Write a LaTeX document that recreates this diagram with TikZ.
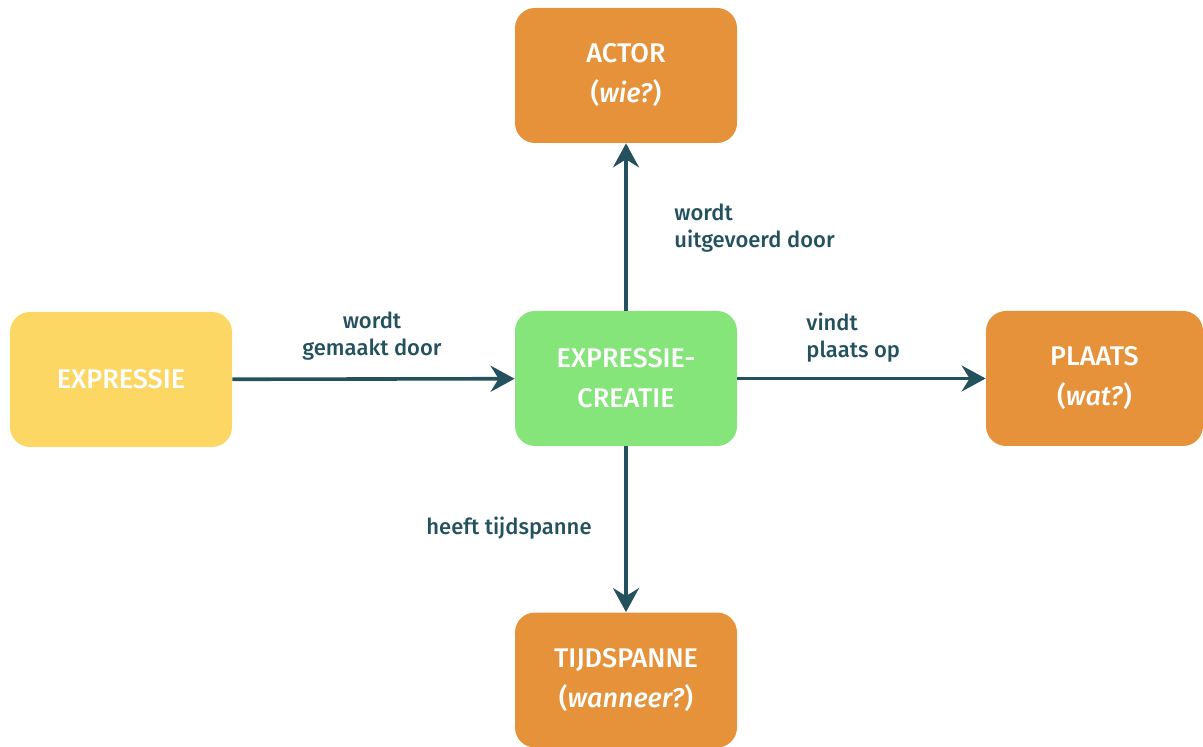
\documentclass[tikz,border=0pt]{standalone}
\usepackage{fontspec}
\setmainfont{Fira Sans}[BoldFont={Fira Sans Medium},BoldItalicFont={Fira Sans Medium Italic}]
\usepackage{tikz}
\usetikzlibrary{arrows.meta}
\definecolor{boxorange}{HTML}{E5923A}
\definecolor{boxgreen}{HTML}{86E57A}
\definecolor{boxyellow}{HTML}{FDD764}
\definecolor{linkteal}{HTML}{23525E}
\tikzset{
  box/.style={rounded corners=10pt, minimum width=111pt, minimum height=67.5pt,
    text=white, align=center, font=\bfseries\fontsize{13.5}{20}\selectfont, inner sep=0pt},
  link/.style={linkteal, line width=1.8pt, -{Stealth[length=12pt,width=13pt,inset=4pt]}},
  lab/.style={text=linkteal, font=\bfseries\fontsize{11}{13.5}\selectfont, inner sep=0pt}
}

\begin{document}
\begin{tikzpicture}[x=0.5pt,y=-0.5pt]
\useasboundingbox (0,0) rectangle (1203,747);
% boxes
\node[box, fill=boxorange] (actor) at (626,75.5) {ACTOR\\(\textit{wie?})};
\node[box, fill=boxyellow] (expr) at (121,379.5) {EXPRESSIE};
\node[box, fill=boxgreen] (creatie) at (626,378.5) {EXPRESSIE-\\CREATIE};
\node[box, fill=boxorange, minimum width=108.5pt] (plaats) at (1094.5,378.5) {PLAATS\\(\textit{wat?})};
\node[box, fill=boxorange] (tijd) at (626,680) {TIJDSPANNE\\(\textit{wanneer?})};
% links
\draw[link] (expr) -- (creatie);
\draw[link] (creatie) -- (actor);
\draw[link] (creatie) -- (plaats);
\draw[link] (creatie) -- (tijd);
% labels
\node[lab, align=center] (l1) at (372,336) {wordt\\gemaakt door};
\node[lab, align=left, anchor=west] (l2) at (674,228) {wordt\\uitgevoerd door};
\node[lab, align=left, anchor=west] (l3) at (806,338) {vindt\\plaats op};
\node[lab] (l4) at (509,528) {heeft tijdspanne};
\end{tikzpicture}
\end{document}
